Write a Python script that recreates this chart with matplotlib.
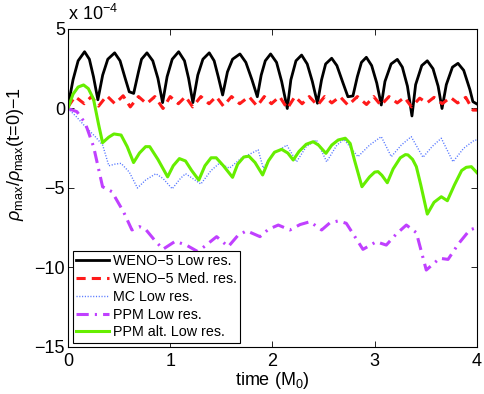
import matplotlib
matplotlib.use("Agg")
import matplotlib.pyplot as plt

plt.rcParams['font.family'] = ['Liberation Sans', 'DejaVu Sans']
plt.rcParams['mathtext.fontset'] = 'custom'
plt.rcParams['mathtext.rm'] = 'Liberation Sans'
plt.rcParams['mathtext.it'] = 'Liberation Sans:italic'

# values in units of 1e-4
weno_low_t = [0.00, 0.05, 0.10, 0.163, 0.21, 0.25, 0.293, 0.34, 0.39, 0.457, 0.51, 0.56, 0.60, 0.643,
              0.69, 0.72, 0.773, 0.83, 0.88, 0.926, 0.97, 1.02, 1.083, 1.14, 1.18, 1.222, 1.27, 1.32,
              1.382, 1.43, 1.47, 1.513, 1.56, 1.61, 1.682, 1.74, 1.80, 1.852, 1.89, 1.93, 1.982, 2.04,
              2.09, 2.145, 2.18, 2.23, 2.285, 2.34, 2.39, 2.44, 2.48, 2.52, 2.579, 2.63, 2.69, 2.738,
              2.787, 2.83, 2.87, 2.918, 2.97, 3.02, 3.064, 3.10, 3.16, 3.221, 3.27, 3.32, 3.364, 3.40,
              3.46, 3.514, 3.57, 3.62, 3.658, 3.70, 3.76, 3.814, 3.87, 3.93, 3.96, 4.00]
weno_low_v = [0.1, 1.8, 3.0, 3.57, 3.1, 2.0, 0.55, 2.1, 3.1, 3.5, 3.0, 1.9, 1.05, 0.95,
              2.3, 3.1, 3.5, 3.0, 1.9, 0.37, 2.0, 3.1, 3.57, 3.0, 1.9, 0.37, 2.1, 3.1,
              3.5, 3.0, 2.0, 0.85, 2.3, 3.1, 3.43, 2.9, 1.8, 0.74, 2.1, 3.0, 3.43, 2.9,
              1.7, 0.0, 1.8, 3.0, 3.36, 2.8, 1.7, 0.33, 1.8, 2.8, 3.16, 2.7, 1.6, 0.74,
              0.79, 2.0, 2.9, 3.22, 2.7, 1.6, 0.22, 1.7, 2.8, 3.09, 2.6, 1.4, -0.47, 1.5,
              2.7, 3.0, 2.5, 1.4, 0.0, 1.5, 2.6, 2.84, 2.4, 1.2, 0.43, 0.28]

weno_med_t = [0.0, 0.07, 0.16, 0.23, 0.30, 0.38, 0.46, 0.54, 0.61, 0.69, 0.77, 0.85, 0.93, 1.00,
              1.08, 1.15, 1.22, 1.30, 1.38, 1.45, 1.52, 1.60, 1.68, 1.77, 1.85, 1.92, 1.99, 2.07,
              2.145, 2.22, 2.29, 2.36, 2.44, 2.51, 2.58, 2.66, 2.74, 2.83, 2.92, 2.99, 3.06, 3.14,
              3.22, 3.29, 3.36, 3.44, 3.51, 3.58, 3.66, 3.74, 3.81, 3.89, 3.96, 4.00]
weno_med_v = [0.1, 0.75, 0.3, 0.75, 0.15, 0.8, 0.3, 0.8, 0.1, 0.75, 0.3, 0.75, 0.0, 0.75,
              0.3, 0.75, 0.1, 0.75, 0.3, 0.75, 0.15, 0.75, 0.3, 0.75, 0.15, 0.75, 0.3, 0.75,
              0.0, 0.75, 0.3, 0.75, 0.2, 0.75, 0.35, 0.75, 0.2, 0.75, 0.25, 0.75, 0.2, 0.75,
              0.35, 0.7, 0.1, 0.65, 0.35, 0.7, 0.3, 0.7, 0.35, 0.7, -0.1, -0.1]

mc_t = [0.0, 0.08, 0.17, 0.267, 0.34, 0.40, 0.46, 0.52, 0.60, 0.68, 0.76, 0.86, 0.93, 1.02,
        1.10, 1.15, 1.22, 1.30, 1.40, 1.48, 1.58, 1.70, 1.80, 1.86, 1.91, 2.00, 2.14, 2.236,
        2.33, 2.43, 2.53, 2.63, 2.70, 2.836, 2.95, 3.064, 3.162, 3.26, 3.357, 3.472, 3.56,
        3.651, 3.765, 3.87, 3.977, 4.0]
mc_v = [0.0, -0.5, -1.14, -1.77, -2.3, -3.6, -3.5, -3.45, -4.0, -5.0, -4.5, -4.1, -4.4, -5.05,
        -4.4, -4.1, -4.4, -4.75, -3.9, -3.45, -3.75, -3.1, -2.8, -2.6, -3.75, -2.9, -2.3, -3.35,
        -2.4, -1.98, -3.35, -2.3, -1.95, -3.03, -2.3, -1.77, -3.03, -2.3, -1.77, -3.07, -2.4,
        -1.87, -3.35, -2.5, -1.98, -2.0]

ppm_t = [0.0, 0.088, 0.17, 0.251, 0.339, 0.43, 0.544, 0.626, 0.70, 0.76, 0.85, 0.93, 1.05, 1.16,
         1.27, 1.35, 1.454, 1.568, 1.66, 1.747, 1.878, 1.96, 2.057, 2.171, 2.27, 2.367, 2.481,
         2.56, 2.643, 2.722, 2.80, 2.885, 3.015, 3.113, 3.21, 3.309, 3.407, 3.504, 3.635, 3.717,
         3.82, 3.929, 3.977, 4.0]
ppm_v = [0.0, -0.2, -0.93, -2.4, -4.92, -5.23, -6.5, -7.64, -7.43, -7.6, -8.3, -8.85, -8.35, -8.6,
         -9.0, -8.6, -8.06, -8.69, -8.0, -7.69, -8.06, -7.6, -7.33, -7.64, -7.3, -7.12, -7.64,
         -7.2, -7.07, -7.22, -8.0, -8.86, -8.38, -8.59, -7.9, -7.33, -7.81, -10.16, -9.42, -9.49,
         -8.5, -7.64, -7.53, -7.5]

ppm_alt_t = [0.0, 0.05, 0.10, 0.153, 0.20, 0.25, 0.30, 0.339, 0.40, 0.45, 0.52, 0.58, 0.642, 0.70,
             0.76, 0.80, 0.88, 0.975, 1.03, 1.09, 1.15, 1.21, 1.28, 1.34, 1.40, 1.45, 1.52, 1.61,
             1.66, 1.72, 1.77, 1.83, 1.904, 1.96, 2.02, 2.09, 2.15, 2.203, 2.26, 2.33, 2.398, 2.45,
             2.523, 2.58, 2.643, 2.712, 2.76, 2.80, 2.875, 2.95, 3.00, 3.032, 3.07, 3.123, 3.18,
             3.25, 3.30, 3.325, 3.37, 3.407, 3.45, 3.514, 3.58, 3.651, 3.71, 3.78, 3.85, 3.895,
             3.945, 4.0]
ppm_alt_v = [0.0, 0.9, 1.35, 1.48, 1.25, 0.6, -1.0, -2.15, -1.8, -1.6, -1.67, -2.4, -3.4, -2.8,
             -2.4, -2.4, -3.2, -4.3, -3.6, -3.15, -3.3, -3.9, -4.5, -3.6, -3.1, -3.1, -3.6, -4.33,
             -3.5, -3.05, -3.0, -3.4, -4.18, -3.3, -2.75, -2.57, -2.8, -3.24, -2.7, -2.25, -2.09, -2.3,
             -2.82, -2.3, -1.98, -1.87, -2.2, -3.2, -4.92, -4.3, -4.0, -3.97, -4.2, -4.67, -3.8,
             -3.1, -2.9, -2.92, -3.2, -3.66, -4.8, -6.64, -5.9, -5.55, -5.8, -4.8, -3.9, -3.7,
             -3.66, -4.04]

labels = ['WENO\u22125 Low res.', 'WENO\u22125 Med. res.', 'MC Low res.', 'PPM Low res.',
          'PPM alt. Low res.']
x_ticks = [0, 1, 2, 3, 4]
y_ticks = [-15, -10, -5, 0, 5]
y_ticklabels = ['\u221215', '\u221210', '\u22125', '0', '5']

fig = plt.figure(figsize=(4.85, 3.94), dpi=100)
ax = fig.add_axes([0.140, 0.1193, 0.8435, 0.8071])

ax.plot(weno_low_t, weno_low_v, color='black', lw=2.0, label=labels[0])
ax.plot(weno_med_t, weno_med_v, color='#ff1a1a', lw=2.2, dashes=(3.0, 2.0), label=labels[1])
ax.plot(mc_t, mc_v, color='#5577ff', lw=1.0, dashes=(0.8, 1.2), label=labels[2])
ax.plot(ppm_t, ppm_v, color='#c040ff', lw=2.2, dashes=(4.0, 2.0, 0.7, 2.0), label=labels[3])
ax.plot(ppm_alt_t, ppm_alt_v, color='#66ee00', lw=2.2, label=labels[4])

ax.set_xlim(0, 4)
ax.set_ylim(-15, 5)
ax.set_xticks(x_ticks)
ax.set_xticklabels([str(v) for v in x_ticks])
ax.set_yticks(y_ticks)
ax.set_yticklabels(y_ticklabels)
ax.tick_params(direction='in', top=True, right=True, length=4, width=0.6, labelsize=13)
ax.tick_params(axis='y', pad=2)
ax.tick_params(axis='x', pad=4)
for s in ax.spines.values():
    s.set_linewidth(0.8)

ax.set_xlabel('time (M$_0$)', fontsize=13, labelpad=0)
fig.text(16 / 485, 1 - 154 / 394, r'$\rho_{\rm max}/\rho_{\rm max}$(t=0)$-$1', fontsize=13,
         rotation=90, ha='center', va='center')
ax.text(0.0, 1.015, r'x 10$^{-4}$', transform=ax.transAxes, fontsize=13, ha='left', va='bottom')

leg = ax.legend(loc='lower left', bbox_to_anchor=(0.012, 0.013), borderaxespad=0, fontsize=10.3,
                frameon=True, fancybox=False, edgecolor='black', framealpha=1, handlelength=2.3,
                handletextpad=0.25, labelspacing=0.26, borderpad=0.25)
leg.get_frame().set_linewidth(0.8)

fig.savefig('out.png', dpi=100)
